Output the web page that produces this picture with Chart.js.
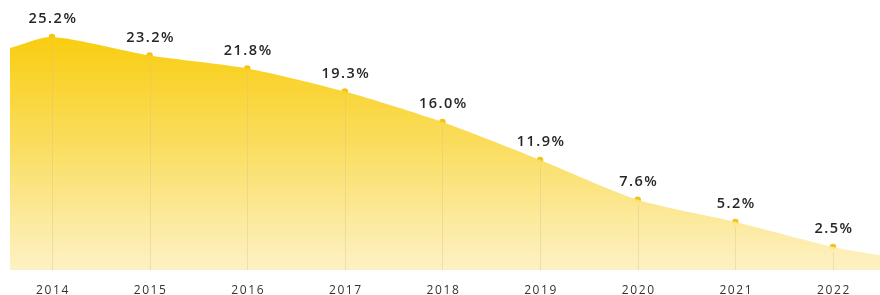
<!DOCTYPE html>
<html><head><meta charset="utf-8">
<script src="https://cdn.jsdelivr.net/npm/chart.js@4"></script>
<style>html,body{margin:0;padding:0;background:#fff;overflow:hidden}canvas{display:block}</style>
</head><body><canvas id="c" width="880" height="295"></canvas>
<script>
const years = ["2014","2015","2016","2017","2018","2019","2020","2021","2022"];
const values = [25.2, 23.2, 21.8, 19.3, 16.0, 11.9, 7.6, 5.2, 2.5];
const labels = ["25.2%","23.2%","21.8%","19.3%","16.0%","11.9%","7.6%","5.2%","2.5%"];
// estimated area values at the left and right edges of the plot
const edgeX = [-0.43, 8.482];
const edgeValues = [24.0, 1.6];

const pts = values.map((v,i)=>({x:i,y:v}));
const areaPts = [{x:edgeX[0],y:edgeValues[0]}, ...pts, {x:edgeX[1],y:edgeValues[1]}];

const dropLines = {
  id:'dropLines',
  afterDatasetsDraw(chart){
    const meta = chart.getDatasetMeta(1);
    const ctx = chart.ctx, bottom = chart.chartArea.bottom;
    ctx.save();
    ctx.strokeStyle='rgba(205,190,150,0.35)';
    ctx.lineWidth=1;
    meta.data.forEach(p=>{ctx.beginPath();ctx.moveTo(Math.round(p.x)+0.5,p.y+5);ctx.lineTo(Math.round(p.x)+0.5,bottom);ctx.stroke();});
    ctx.restore();
  }
};
const textLabels = {
  id:'textLabels',
  afterDraw(chart){
    const meta = chart.getDatasetMeta(1);
    const xs = chart.scales.x;
    const ctx = chart.ctx;
    ctx.save();
    ctx.textAlign='center';ctx.textBaseline='middle';
    ctx.font='600 14.5px "Open Sans", sans-serif';
    ctx.fillStyle='#262626';
    if ('letterSpacing' in ctx) ctx.letterSpacing='1.5px';
    meta.data.forEach((p,i)=>ctx.fillText(labels[i],p.x+1,p.y-18));
    ctx.font='12px "Open Sans", sans-serif';
    ctx.fillStyle='#333';
    if ('letterSpacing' in ctx) ctx.letterSpacing='1.6px';
    years.forEach((y,i)=>ctx.fillText(y, xs.getPixelForValue(i)+1, chart.chartArea.bottom+21));
    ctx.restore();
  }
};

const ctx = document.getElementById('c');
new Chart(ctx,{
  type:'line',
  data:{datasets:[
    {data:areaPts, fill:'origin', borderWidth:0, pointRadius:0, tension:0.25,
     backgroundColor:(c)=>{const a=c.chart.chartArea; if(!a) return '#f9d020';
       const g=c.chart.ctx.createLinearGradient(0,a.top+30,0,a.bottom);
       g.addColorStop(0,'rgba(249,204,10,1)');g.addColorStop(0.5,'rgba(250,220,90,0.95)');g.addColorStop(1,'rgba(253,240,190,0.9)');return g;}},
    {data:pts, showLine:false, pointRadius:4.5, pointBackgroundColor:'#f2c414', pointBorderColor:'#fff', pointBorderWidth:2.5}
  ]},
  options:{
    responsive:false, animation:false, devicePixelRatio:1,
    layout:{autoPadding:false, padding:{left:10,right:0,top:0,bottom:25}},
    plugins:{legend:{display:false},tooltip:{enabled:false}},
    scales:{
      x:{type:'linear',min:edgeX[0],max:edgeX[1],display:false},
      y:{min:0,max:29.2,display:false}
    }
  },
  plugins:[dropLines,textLabels]
});
</script></body></html>
